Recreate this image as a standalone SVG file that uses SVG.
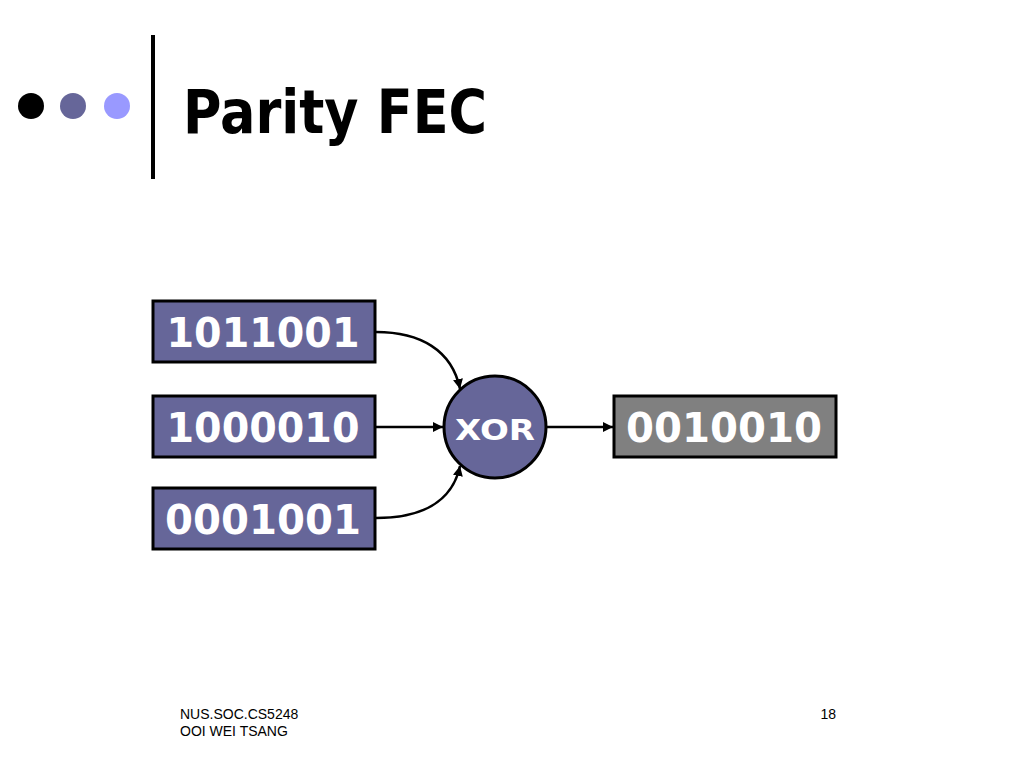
<svg xmlns="http://www.w3.org/2000/svg" width="1024" height="768" viewBox="0 0 1024 768">
<defs>
<style>
.box{fill:#666699;stroke:#000;stroke-width:3}
.out{fill:#808080;stroke:#000;stroke-width:3}
.num{font-family:"DejaVu Sans",Verdana,sans-serif;font-weight:bold;font-size:40px;fill:#fff}
.conn{fill:none;stroke:#000;stroke-width:2.5;marker-end:url(#ah)}
.foot{font-family:"Liberation Sans",Arial,sans-serif;font-size:14px;fill:#000}
</style>
<marker id="ah" viewBox="0 0 10 10" refX="10" refY="5" markerWidth="4" markerHeight="4" orient="auto" markerUnits="strokeWidth">
<path d="M0,0 L10,5 L0,10 z" fill="#000"/>
</marker>
</defs>
<rect width="1024" height="768" fill="#fff"/>
<g id="header">
<circle cx="31" cy="106" r="13" fill="#000"/>
<circle cx="73" cy="106" r="13" fill="#666699"/>
<circle cx="117" cy="106" r="13" fill="#9999ff"/>
<rect x="151" y="35" width="4" height="144" fill="#000"/>
<text x="183" y="133" font-family="DejaVu Sans,Verdana,sans-serif" font-weight="bold" font-size="61" textLength="304" lengthAdjust="spacingAndGlyphs">Parity FEC</text>
</g>
<g id="connectors">
<path class="conn" d="M376,332 C420,332 452,350 460,389"/>
<path class="conn" d="M376,427 L443,427"/>
<path class="conn" d="M376,518 C420,518 452,503 460,466"/>
<path class="conn" d="M547,427 L613,427"/>
</g>
<g id="in1">
<rect class="box" x="153" y="301" width="222" height="61"/>
<text class="num" x="263" y="347" text-anchor="middle" textLength="193" lengthAdjust="spacingAndGlyphs">1011001</text>
</g>
<g id="in2">
<rect class="box" x="153" y="396" width="222" height="61"/>
<text class="num" x="263" y="442" text-anchor="middle" textLength="193" lengthAdjust="spacingAndGlyphs">1000010</text>
</g>
<g id="in3">
<rect class="box" x="153" y="488" width="222" height="61"/>
<text class="num" x="263" y="534" text-anchor="middle" textLength="196" lengthAdjust="spacingAndGlyphs">0001001</text>
</g>
<g id="xor">
<circle cx="495" cy="427" r="51" fill="#666699" stroke="#000" stroke-width="3"/>
<text x="495" y="440" text-anchor="middle" font-family="DejaVu Sans,Verdana,sans-serif" font-weight="bold" font-size="29" fill="#fff" textLength="80" lengthAdjust="spacingAndGlyphs">XOR</text>
</g>
<g id="out">
<rect class="out" x="614" y="396" width="222" height="61"/>
<text class="num" x="724" y="442" text-anchor="middle" textLength="196" lengthAdjust="spacingAndGlyphs">0010010</text>
</g>
<g id="footer">
<text class="foot" x="180" y="719">NUS.SOC.CS5248</text>
<text class="foot" x="180" y="736">OOI WEI TSANG</text>
<text class="foot" x="836" y="719" text-anchor="end">18</text>
</g>
</svg>
